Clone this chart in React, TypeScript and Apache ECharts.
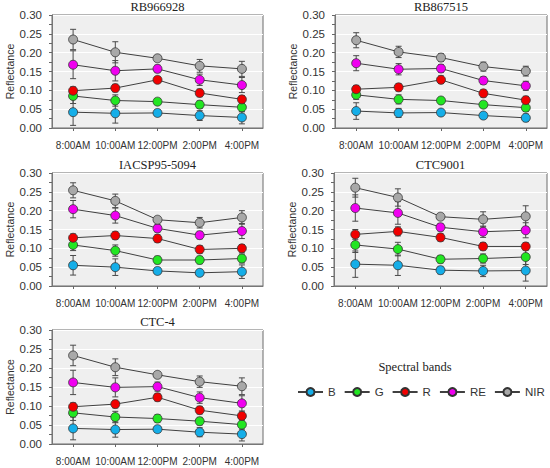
import React, { useEffect, useRef } from "react";
import * as echarts from "echarts";

const categories = ["8:00AM", "10:00AM", "12:00PM", "2:00PM", "4:00PM"];
const bands = ["B", "G", "R", "RE", "NIR"];
const bandColors = ["#15aee8", "#22e622", "#f00000", "#f000f0", "#a8a8a8"];
const panelTitles = ["RB966928", "RB867515", "IACSP95-5094", "CTC9001", "CTC-4"];
const yTicks = [0, 0.05, 0.1, 0.15, 0.2, 0.25, 0.3];

// means per band: B, G, R, RE, NIR
const RB966928_mean = [
  [0.042, 0.039, 0.040, 0.033, 0.028],
  [0.085, 0.073, 0.070, 0.062, 0.055],
  [0.099, 0.106, 0.128, 0.093, 0.076],
  [0.168, 0.152, 0.157, 0.128, 0.114],
  [0.235, 0.201, 0.185, 0.165, 0.157],
];
const RB966928_sd = [
  [0.035, 0.026, 0.008, 0.013, 0.017],
  [0.020, 0.015, 0.008, 0.010, 0.012],
  [0.010, 0.010, 0.008, 0.010, 0.010],
  [0.037, 0.027, 0.010, 0.015, 0.020],
  [0.027, 0.028, 0.008, 0.017, 0.020],
];
const RB867515_mean = [
  [0.045, 0.040, 0.041, 0.033, 0.027],
  [0.088, 0.076, 0.073, 0.062, 0.054],
  [0.103, 0.108, 0.128, 0.092, 0.074],
  [0.172, 0.156, 0.158, 0.126, 0.112],
  [0.233, 0.202, 0.187, 0.163, 0.151],
];
const RB867515_sd = [
  [0.022, 0.012, 0.008, 0.008, 0.010],
  [0.012, 0.012, 0.008, 0.008, 0.010],
  [0.010, 0.010, 0.010, 0.010, 0.010],
  [0.020, 0.015, 0.010, 0.010, 0.012],
  [0.020, 0.015, 0.010, 0.012, 0.013],
];
const IACSP95_5094_mean = [
  [0.055, 0.050, 0.040, 0.035, 0.038],
  [0.109, 0.094, 0.069, 0.069, 0.073],
  [0.128, 0.134, 0.126, 0.097, 0.100],
  [0.204, 0.187, 0.153, 0.135, 0.146],
  [0.254, 0.226, 0.176, 0.168, 0.182],
];
const IACSP95_5094_sd = [
  [0.026, 0.022, 0.008, 0.008, 0.018],
  [0.015, 0.015, 0.010, 0.010, 0.012],
  [0.010, 0.010, 0.010, 0.010, 0.010],
  [0.023, 0.020, 0.010, 0.010, 0.020],
  [0.020, 0.018, 0.008, 0.014, 0.018],
];
const CTC9001_mean = [
  [0.058, 0.055, 0.042, 0.040, 0.041],
  [0.109, 0.098, 0.071, 0.073, 0.077],
  [0.137, 0.145, 0.129, 0.105, 0.105],
  [0.207, 0.194, 0.156, 0.144, 0.148],
  [0.261, 0.235, 0.184, 0.177, 0.185],
];
const CTC9001_sd = [
  [0.035, 0.027, 0.010, 0.015, 0.028],
  [0.020, 0.018, 0.010, 0.012, 0.020],
  [0.013, 0.012, 0.010, 0.010, 0.010],
  [0.035, 0.030, 0.010, 0.015, 0.020],
  [0.025, 0.023, 0.008, 0.020, 0.028],
];
const CTC4_mean = [
  [0.041, 0.038, 0.039, 0.031, 0.026],
  [0.082, 0.071, 0.067, 0.060, 0.051],
  [0.098, 0.105, 0.123, 0.089, 0.074],
  [0.162, 0.149, 0.151, 0.122, 0.107],
  [0.233, 0.202, 0.182, 0.164, 0.152],
];
const CTC4_sd = [
  [0.030, 0.020, 0.008, 0.012, 0.018],
  [0.020, 0.015, 0.010, 0.010, 0.012],
  [0.010, 0.010, 0.010, 0.010, 0.010],
  [0.032, 0.025, 0.012, 0.015, 0.020],
  [0.027, 0.022, 0.008, 0.015, 0.022],
];

const panelMeans = [RB966928_mean, RB867515_mean, IACSP95_5094_mean, CTC9001_mean, CTC4_mean];
const panelSds = [RB966928_sd, RB867515_sd, IACSP95_5094_sd, CTC9001_sd, CTC4_sd];

const gridBoxes = [
  { left: 52, top: 15, width: 211, height: 113 },
  { left: 335, top: 15, width: 212, height: 113 },
  { left: 52, top: 173, width: 211, height: 113 },
  { left: 334, top: 173, width: 213, height: 113 },
  { left: 52, top: 330, width: 211, height: 114 },
];

const SANS = "'Liberation Sans', Arial, sans-serif";
const SERIF = "'Liberation Serif', 'DejaVu Serif', serif";

export default function App() {
  const ref = useRef<HTMLDivElement>(null);
  useEffect(() => {
    if (!ref.current) return;
    const chart = echarts.init(ref.current, undefined, { renderer: "svg" });

    const grid: any[] = [];
    const xAxis: any[] = [];
    const yAxis: any[] = [];
    const series: any[] = [];
    const titles: any[] = [];

    gridBoxes.forEach((g, p) => {
      grid.push({
        ...g,
        show: true,
        backgroundColor: "#efefef",
        borderColor: "#6a6a6a",
        borderWidth: 1,
      });
      titles.push({
        text: panelTitles[p],
        left: g.left + g.width / 2,
        top: g.top - 15,
        padding: 0,
        textAlign: "center",
        textStyle: { fontFamily: SERIF, fontSize: 12.5, fontWeight: 400, color: "#222" },
      });
      xAxis.push({
        type: "category",
        gridIndex: p,
        data: categories,
        boundaryGap: true,
        axisLine: { show: true, lineStyle: { color: "#777", width: 1 } },
        axisTick: { show: true, alignWithLabel: true, length: 3, lineStyle: { color: "#666" } },
        axisLabel: { interval: 0, margin: 12, fontFamily: SANS, fontSize: 10, color: "#333" },
        splitLine: { show: false },
      });
      yAxis.push({
        type: "value",
        gridIndex: p,
        min: 0,
        max: 0.3,
        interval: 0.05,
        name: "Reflectance",
        nameLocation: "middle",
        nameGap: 35,
        nameTextStyle: { fontFamily: SANS, fontSize: 10.5, color: "#333" },
        axisLine: { show: true, lineStyle: { color: "#777", width: 1 } },
        axisTick: { show: true, length: 3, lineStyle: { color: "#666" } },
        minorTick: { show: true, splitNumber: 2, length: 3, lineStyle: { color: "#666" } },
        axisLabel: {
          margin: 10,
          fontFamily: SANS,
          fontSize: 11.5,
          color: "#333",
          customValues: yTicks,
          formatter: (v: number) => v.toFixed(2),
        },
        splitLine: { show: true, lineStyle: { color: "#ffffff", width: 1 } },
      });

      const means = panelMeans[p];
      const sds = panelSds[p];
      bands.forEach((b, k) => {
        series.push({
          type: "custom",
          xAxisIndex: p,
          yAxisIndex: p,
          z: 1,
          silent: true,
          encode: { x: 0, y: 1 },
          data: means[k].map((m, i) => [i, m, sds[k][i]]),
          renderItem: (params: any, api: any) => {
            const i = api.value(0);
            const m = api.value(1);
            const s = api.value(2);
            const top = api.coord([i, m + s]);
            const bot = api.coord([i, m - s]);
            const hw = 3;
            const st = { stroke: "#4a4a4a", lineWidth: 1 };
            return {
              type: "group",
              children: [
                { type: "line", shape: { x1: top[0], y1: top[1], x2: bot[0], y2: bot[1] }, style: st },
                { type: "line", shape: { x1: top[0] - hw, y1: top[1], x2: top[0] + hw, y2: top[1] }, style: st },
                { type: "line", shape: { x1: bot[0] - hw, y1: bot[1], x2: bot[0] + hw, y2: bot[1] }, style: st },
              ],
            };
          },
        });
        series.push({
          type: "line",
          name: b,
          xAxisIndex: p,
          yAxisIndex: p,
          z: 3,
          data: means[k],
          symbol: "circle",
          symbolSize: 9,
          lineStyle: { color: "#404040", width: 1 },
          itemStyle: { color: bandColors[k], borderColor: "#333", borderWidth: 0.8 },
        });
      });
    });

    titles.push({
      text: "Spectral bands",
      left: 415,
      top: 360,
      padding: 0,
      textAlign: "center",
      textStyle: { fontFamily: SERIF, fontSize: 12.5, fontWeight: 400, color: "#222" },
    });

    chart.setOption({
      animation: false,
      backgroundColor: "#ffffff",
      title: titles,
      grid,
      xAxis,
      yAxis,
      series,
      legend: {
        data: bands,
        left: 297,
        top: 386,
        padding: 0,
        itemWidth: 25,
        itemHeight: 10,
        itemGap: 8,
        textStyle: { fontFamily: SANS, fontSize: 11.5, color: "#333" },
        selectedMode: false,
      },
    });
    return () => chart.dispose();
  }, []);
  return <div ref={ref} style={{ position: "absolute", left: 0, top: 0, width: 550, height: 468 }} />;
}
